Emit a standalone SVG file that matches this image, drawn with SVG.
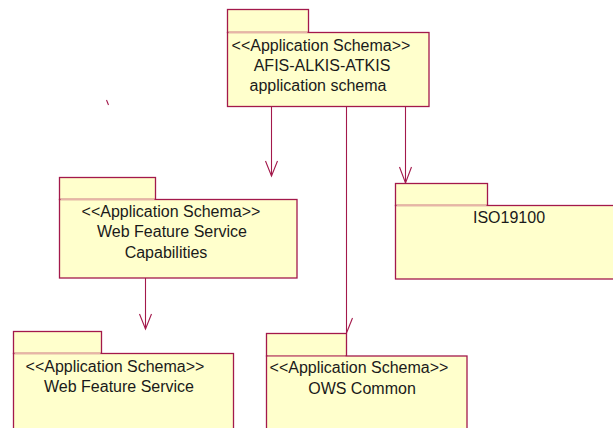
<svg xmlns="http://www.w3.org/2000/svg" width="613" height="428" viewBox="0 0 613 428">
<style>
.pk{fill:#FFFFCC;stroke:#A3194B;stroke-width:1.3}
.sep{stroke:#E7B4A8;stroke-width:1;fill:none}
.t{font-family:"Liberation Sans",Arial,sans-serif;font-size:16px;fill:#1a1a1a;text-anchor:middle}
.c{stroke:#A3194B;stroke-width:1.1;fill:none}
</style>
<rect width="613" height="428" fill="#ffffff"/>
<g id="connectors">
<line class="c" x1="271.5" y1="107" x2="271.5" y2="176"/>
<polyline class="c" points="265.5,161 271.5,176 277.5,161"/>
<line class="c" x1="405.5" y1="107" x2="405.5" y2="183"/>
<polyline class="c" points="399.5,167 405.5,183 411.5,167"/>
<line class="c" x1="346.5" y1="107" x2="346.5" y2="333"/>
<line class="c" x1="346.5" y1="333" x2="352.5" y2="318"/>
<line class="c" x1="145.5" y1="278" x2="145.5" y2="329"/>
<polyline class="c" points="139.5,314 145.5,329 151.5,314"/>
<line class="c" x1="106.5" y1="100" x2="108.5" y2="105"/>
</g>
<g id="afis">
<rect class="pk" x="227.5" y="9.5" width="81" height="23"/>
<rect class="pk" x="227.5" y="32.5" width="201.5" height="74"/>
<line class="sep" x1="228.5" y1="32.5" x2="307.5" y2="32.5"/>
<text class="t" x="321" y="51">&lt;&lt;Application Schema&gt;&gt;</text>
<text class="t" x="322" y="71">AFIS-ALKIS-ATKIS</text>
<text class="t" x="318" y="91">application schema</text>
</g>
<g id="wfscap">
<rect class="pk" x="59.5" y="177.5" width="96" height="22"/>
<rect class="pk" x="59.5" y="199.5" width="237.5" height="78.5"/>
<line class="sep" x1="60.5" y1="199.5" x2="154.5" y2="199.5"/>
<text class="t" x="171" y="217">&lt;&lt;Application Schema&gt;&gt;</text>
<text class="t" x="172" y="237">Web Feature Service</text>
<text class="t" x="166" y="258">Capabilities</text>
</g>
<g id="iso">
<rect class="pk" x="395.5" y="183.5" width="92" height="22"/>
<rect class="pk" x="395.5" y="205.5" width="225" height="73.5"/>
<line class="sep" x1="396.5" y1="205.5" x2="486.5" y2="205.5"/>
<text class="t" x="509" y="223">ISO19100</text>
</g>
<g id="wfs">
<rect class="pk" x="13.5" y="331.5" width="88" height="22"/>
<rect class="pk" x="13.5" y="353.5" width="220" height="80"/>
<line class="sep" x1="14.5" y1="353.5" x2="100.5" y2="353.5"/>
<text class="t" x="115" y="372">&lt;&lt;Application Schema&gt;&gt;</text>
<text class="t" x="119" y="392">Web Feature Service</text>
</g>
<g id="ows">
<rect class="pk" x="266.5" y="333.5" width="80" height="22.5"/>
<rect class="pk" x="266.5" y="356" width="200.5" height="80"/>
<line class="sep" x1="267.5" y1="356" x2="345.5" y2="356"/>
<text class="t" x="359" y="373">&lt;&lt;Application Schema&gt;&gt;</text>
<text class="t" x="362" y="394">OWS Common</text>
</g>
</svg>
